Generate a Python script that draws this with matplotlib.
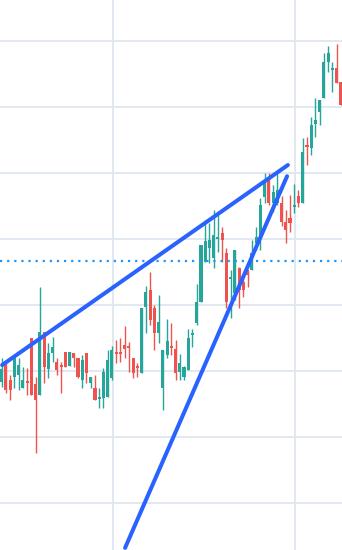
#!/usr/bin/env python3
"""Candlestick chart with two trend lines and a dotted level."""

import matplotlib
matplotlib.use("Agg")
import matplotlib.pyplot as plt

# OHLC values
opens = [28.3, 30.9, 28.6, 29.1, 29.4, 27.4, 28.5, 35.0, 28.0, 26.4,
         35.9, 30.3, 32.7, 31.4, 30.9, 32.9, 30.8, 32.7, 32.0, 28.6,
         32.7, 28.2, 27.4, 25.8, 25.9, 26.1, 28.9, 32.9, 32.9, 33.9,
         33.8, 32.0, 30.8, 29.7, 39.7, 42.3, 39.5, 35.8, 27.4, 32.4,
         33.8, 33.3, 29.8, 29.1, 30.2, 35.5, 37.3, 40.5, 46.5, 48.6,
         47.1, 50.0, 50.9, 47.9, 43.9, 41.8, 45.6, 43.5, 45.3, 45.3,
         49.4, 50.3, 56.4, 59.2, 55.5, 55.5, 55.5, 52.6, 53.2, 54.8,
         56.5, 55.5, 64.2, 63.8, 67.4, 69.2, 71.4, 76.8, 75.6, 75.9,
         73.8]
highs = [32.0, 31.2, 29.4, 32.1, 32.0, 30.6, 30.5, 35.0, 29.1, 42.7,
         35.9, 34.2, 35.2, 32.0, 31.4, 32.9, 32.9, 32.7, 32.0, 32.4,
         32.7, 29.1, 29.4, 27.4, 30.5, 33.2, 33.8, 34.7, 35.0, 36.8,
         34.4, 32.0, 31.2, 39.5, 42.9, 45.0, 40.0, 41.5, 33.2, 37.9,
         37.3, 34.7, 32.6, 30.8, 36.4, 36.4, 43.2, 49.1, 52.9, 52.4,
         54.4, 53.9, 51.8, 48.6, 45.3, 48.3, 45.8, 44.2, 45.3, 49.8,
         51.8, 56.2, 60.0, 60.0, 58.2, 60.2, 56.5, 54.4, 56.7, 58.3,
         57.4, 65.3, 65.5, 68.5, 71.4, 71.1, 78.2, 79.2, 76.8, 79.5,
         73.8]
lows = [27.6, 26.7, 25.6, 27.4, 27.1, 27.4, 26.4, 26.4, 17.6, 26.4,
        28.2, 28.9, 31.4, 29.4, 26.7, 30.6, 30.8, 30.6, 28.9, 27.4,
        28.2, 27.4, 25.6, 24.4, 24.4, 26.1, 28.6, 31.2, 31.4, 32.0,
        29.8, 28.9, 29.1, 29.7, 35.8, 37.0, 33.2, 34.2, 24.1, 32.0,
        32.4, 28.6, 28.6, 28.6, 30.2, 33.6, 37.0, 40.5, 46.5, 46.4,
        45.6, 48.0, 46.5, 39.5, 38.0, 40.8, 39.5, 41.2, 42.7, 45.3,
        48.3, 48.3, 55.5, 55.2, 54.1, 55.2, 52.0, 49.4, 51.1, 53.9,
        54.8, 55.5, 61.2, 62.7, 65.5, 67.3, 71.4, 75.3, 72.3, 73.6,
        70.3]
closes = [30.3, 27.1, 27.1, 32.0, 30.9, 28.6, 28.2, 26.4, 25.6, 35.9,
          30.6, 32.7, 33.6, 30.2, 30.6, 30.6, 32.9, 32.0, 29.1, 31.7,
          29.7, 29.1, 25.6, 26.1, 29.8, 31.7, 33.2, 32.6, 32.6, 33.3,
          33.5, 29.7, 30.5, 39.5, 42.0, 37.7, 35.8, 37.4, 33.2, 34.5,
          33.5, 29.7, 31.2, 30.6, 35.0, 35.8, 40.5, 49.1, 49.7, 49.8,
          50.6, 50.3, 49.8, 40.5, 44.2, 48.3, 42.3, 42.3, 44.5, 47.9,
          50.3, 55.2, 58.5, 55.5, 57.1, 57.4, 52.6, 51.4, 52.4, 55.2,
          55.5, 63.2, 63.9, 67.3, 68.0, 71.1, 76.8, 78.2, 75.9, 73.6,
          70.3]

# drawn objects: trend lines (bar index, price) and a horizontal level
trend_upper = [(0.1, 30.9), (67.5, 61.2)]
trend_lower = [(29.1, 3.2), (67.3, 59.5)]
level_price = 46.67

# grid positions
price_grid = [10, 20, 30, 40, 50, 60, 70, 80]
time_grid = [26.3, 69.2]

UP = "#26a69a"
DOWN = "#ef5350"
GRID = "#e1e8ef"
LINE = "#2962ff"


def main():
    fig = plt.figure(figsize=(3.42, 5.5), dpi=100)
    ax = fig.add_axes([0, 0, 1, 1])

    for y in price_grid:
        ax.axhline(y, color=GRID, linewidth=1.4, zorder=0)
    for x in time_grid:
        ax.axvline(x, color=GRID, linewidth=1.4, zorder=0)

    for i, (o, h, l, c) in enumerate(zip(opens, highs, lows, closes)):
        col = UP if c >= o else DOWN
        ax.vlines(i, l, h, color=col, linewidth=1.0, zorder=2)
        bottom = min(o, c)
        height = max(abs(c - o), 0.25)
        ax.bar(i, height, bottom=bottom, width=0.72, color=col,
               linewidth=0, zorder=3)

    ax.axhline(level_price, color="#2196f3", linewidth=1.6,
               linestyle=(0, (1, 2.2)), zorder=4)

    for pts in (trend_upper, trend_lower):
        xs = [p[0] for p in pts]
        ys = [p[1] for p in pts]
        ax.plot(xs, ys, color=LINE, linewidth=2.9, solid_capstyle="round",
                zorder=5)

    ax.set_xlim(-0.4, 80.26)
    ax.set_ylim(2.88, 86.2)
    ax.axis("off")

    fig.savefig("out.png", dpi=100, facecolor="white")


if __name__ == "__main__":
    main()
